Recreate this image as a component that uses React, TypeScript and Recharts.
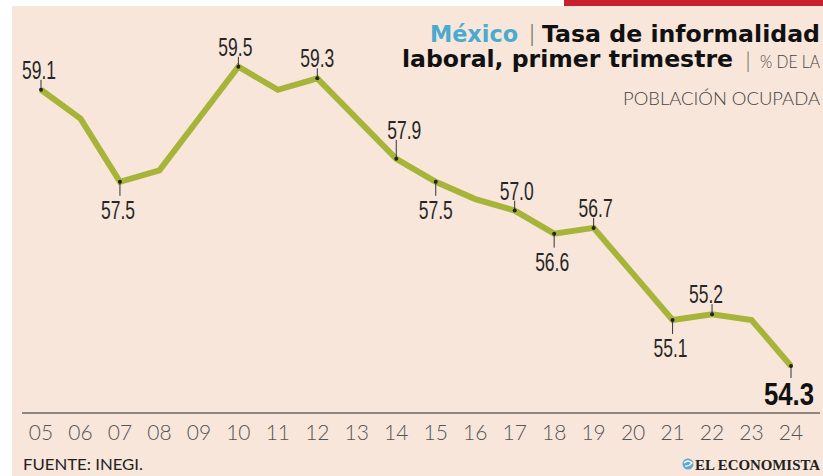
import React from 'react';
import { LineChart, Line, XAxis, YAxis } from 'recharts';

const years = ['05', '06', '07', '08', '09', '10', '11', '12', '13', '14', '15', '16', '17', '18', '19', '20', '21', '22', '23', '24'];
const informalityRate = [59.1, 58.6, 57.5, 57.7, 58.6, 59.5, 59.1, 59.3, 58.6, 57.9, 57.5, 57.2, 57.0, 56.6, 56.7, 55.9, 55.1, 55.2, 55.1, 54.3];
const yDomain = [53.5, 60];

type Placement = { side: 'above' | 'below' | 'final'; dx?: number; lift?: number };
const labelPlacement: Record<string, Placement> = {
  '05': { side: 'above', dx: -2 },
  '07': { side: 'below', dx: -2 },
  '10': { side: 'above', dx: -3 },
  '12': { side: 'above' },
  '14': { side: 'above', dx: 8, lift: 9 },
  '15': { side: 'below' },
  '17': { side: 'above', dx: 2 },
  '18': { side: 'below', dx: -2 },
  '19': { side: 'above', dx: 2 },
  '21': { side: 'below', dx: -2 },
  '22': { side: 'above', dx: -6 },
  '24': { side: 'final', dx: -2 },
};

const data = years.map((y, i) => ({ year: y, rate: informalityRate[i] }));

const BG = '#f8e6da';
const LINE = '#a6b53a';
const LABEL_FONT = "'Liberation Sans', Arial, sans-serif";
const GEO_FONT = "'Lato', 'Noto Sans', sans-serif";
const TITLE_FONT = "'DejaVu Sans', 'Lato', sans-serif";

const ScaledText = ({ x, y, children, size, weight, fill, sx }: any) => (
  <text
    transform={`translate(${x},${y}) scale(${sx},1)`}
    x={0}
    y={0}
    textAnchor="middle"
    fontFamily={LABEL_FONT}
    fontWeight={weight}
    fontSize={size}
    fill={fill}
  >
    {children}
  </text>
);

const PointLabel = (props: any) => {
  const { cx, cy, index } = props;
  const year = years[index];
  const p = labelPlacement[year];
  if (!p || cx == null || cy == null) return <g key={`d${index}`} />;
  const dx = p.dx || 0;
  const lift = p.lift || 0;
  const value = informalityRate[index].toFixed(1);
  let line: React.ReactNode;
  let text: React.ReactNode;
  if (p.side === 'above') {
    line = <line x1={cx} y1={cy} x2={cx} y2={cy - 10 - lift} stroke="#333" strokeWidth={1} />;
    text = (
      <ScaledText x={cx + dx} y={cy - 11 - lift} size={25} weight={400} fill="#262626" sx={0.7}>
        {value}
      </ScaledText>
    );
  } else if (p.side === 'below') {
    line = <line x1={cx} y1={cy} x2={cx} y2={cy + 14} stroke="#333" strokeWidth={1} />;
    text = (
      <ScaledText x={cx + dx} y={cy + 37} size={25} weight={400} fill="#262626" sx={0.7}>
        {value}
      </ScaledText>
    );
  } else {
    line = <line x1={cx} y1={cy} x2={cx} y2={cy + 12} stroke="#333" strokeWidth={1} />;
    text = (
      <ScaledText x={cx + dx} y={cy + 39} size={31} weight={700} fill="#111" sx={0.83}>
        {value}
      </ScaledText>
    );
  }
  return (
    <g key={`d${index}`}>
      {line}
      <circle cx={cx} cy={cy} r={2} fill="#222" />
      {text}
    </g>
  );
};

const YearTick = (props: any) => {
  const { x, y, payload } = props;
  return (
    <text x={x} y={y + 28} textAnchor="middle" fontFamily={GEO_FONT} fontWeight={300} fontSize={21} fill="#555">
      {payload.value}
    </text>
  );
};

export default function App() {
  return (
    <div style={{ position: 'absolute', left: 0, top: 0, width: 823, height: 476, background: '#fff', overflow: 'hidden' }}>
      <div style={{ position: 'absolute', left: 12, top: 6, width: 811, height: 470, background: BG }} />
      <div style={{ position: 'absolute', left: 564, top: 0, width: 259, height: 6, background: '#c9202f' }} />
      <div style={{ position: 'absolute', left: 22, top: 412, width: 798, height: 1.5, background: '#8d8781' }} />
      <svg width={823} height={476} style={{ position: 'absolute', left: 0, top: 0 }}>
        <text x={430} y={42} textLength={88} lengthAdjust="spacingAndGlyphs" fontFamily={TITLE_FONT} fontWeight={700} fontSize={23} fill="#4aaad0">
          México
        </text>
        <text x={532} y={42} textAnchor="middle" fontFamily={GEO_FONT} fontWeight={300} fontSize={23} fill="#444">
          |
        </text>
        <text x={542} y={42} textLength={278} lengthAdjust="spacingAndGlyphs" fontFamily={TITLE_FONT} fontWeight={700} fontSize={23} fill="#111">
          Tasa de informalidad
        </text>
        <text x={402} y={67} textLength={331} lengthAdjust="spacingAndGlyphs" fontFamily={TITLE_FONT} fontWeight={700} fontSize={23} fill="#111">
          laboral, primer trimestre
        </text>
        <text x={748} y={68} textAnchor="middle" fontFamily={GEO_FONT} fontWeight={300} fontSize={21} fill="#555">
          |
        </text>
        <text x={760} y={68} textLength={60} lengthAdjust="spacingAndGlyphs" fontFamily={GEO_FONT} fontWeight={300} fontSize={17} fill="#444">
          % DE LA
        </text>
        <text x={623} y={105} textLength={197} lengthAdjust="spacingAndGlyphs" fontFamily={GEO_FONT} fontWeight={300} fontSize={18.5} fill="#444">
          POBLACIÓN OCUPADA
        </text>
        <text x={23} y={470} textLength={120} lengthAdjust="spacingAndGlyphs" fontFamily={GEO_FONT} fontWeight={400} fontSize={15} fill="#222">
          FUENTE: INEGI.
        </text>
        <circle cx={688} cy={464} r={5.5} fill="#5aa9d6" />
        <path d="M684,463 Q688,459 692,463 Q688,467 685,466" stroke="#fff" strokeWidth={1.2} fill="none" />
        <text x={695} y={470} textLength={125} lengthAdjust="spacingAndGlyphs" fontFamily="'Liberation Serif', 'DejaVu Serif', serif" fontWeight={700} fontSize={14.5} fill="#222">
          EL ECONOMISTA
        </text>
      </svg>
      <div style={{ position: 'absolute', left: 0, top: 0 }}>
        <LineChart width={823} height={476} data={data} margin={{ top: 38, right: 32, bottom: 34, left: 41 }}>
          <XAxis
            dataKey="year"
            axisLine={false}
            tickLine={false}
            tickSize={0}
            tickMargin={0}
            height={30}
            interval={0}
            padding={{ left: 0, right: 0 }}
            tick={<YearTick />}
          />
          <YAxis hide domain={yDomain} />
          <Line
            type="linear"
            dataKey="rate"
            stroke={LINE}
            strokeWidth={6}
            dot={(p: any) => <PointLabel key={`pl${p.index}`} {...p} />}
            activeDot={false}
            isAnimationActive={false}
          />
        </LineChart>
      </div>
    </div>
  );
}
